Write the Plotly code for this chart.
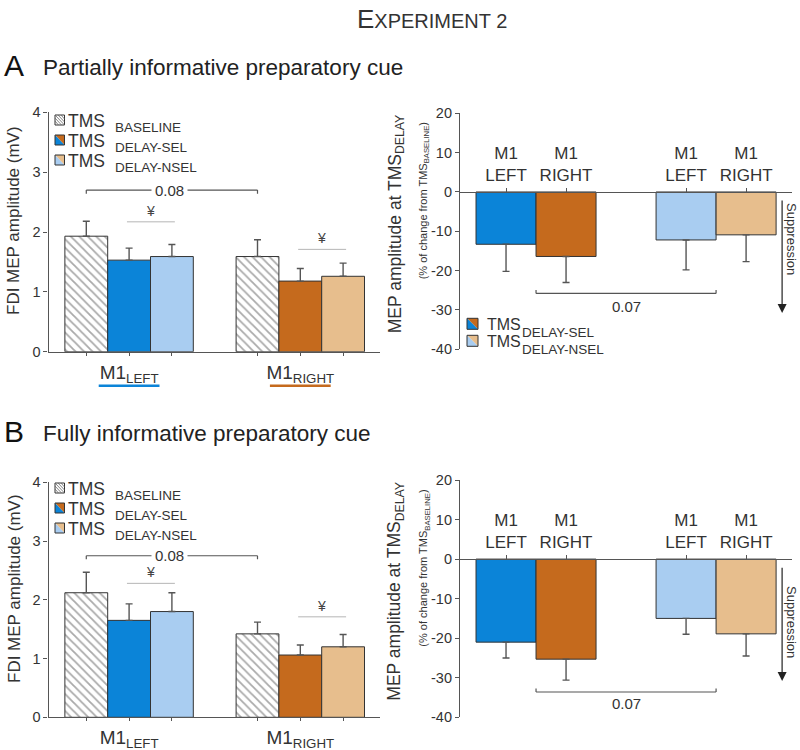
import plotly.graph_objects as go

W, H = 800, 750

# ---------------- data ----------------
group_labels = ["M1<sub>LEFT</sub>", "M1<sub>RIGHT</sub>"]
hemi_labels = ["M1<br>LEFT", "M1<br>RIGHT"]

# Left panels: FDI MEP amplitude (mV), [M1 LEFT, M1 RIGHT]
A_base = [1.93, 1.59]
A_base_err = [0.25, 0.28]
A_sel = [1.53, 1.18]
A_sel_err = [0.20, 0.21]
A_nsel = [1.59, 1.26]
A_nsel_err = [0.20, 0.22]

B_base = [2.12, 1.42]
B_base_err = [0.35, 0.20]
B_sel = [1.65, 1.06]
B_sel_err = [0.28, 0.17]
B_nsel = [1.80, 1.20]
B_nsel_err = [0.32, 0.21]

# Right panels: % change from TMS baseline, [M1 LEFT, M1 RIGHT]
A_sel_pct = [-13.3, -16.4]
A_sel_pct_err = [6.9, 6.6]
A_nsel_pct = [-12.2, -10.9]
A_nsel_pct_err = [7.6, 6.8]

B_sel_pct = [-21.0, -25.3]
B_sel_pct_err = [4.0, 5.3]
B_nsel_pct = [-15.0, -18.9]
B_nsel_pct_err = [4.0, 5.6]

left_ticks = [0, 1, 2, 3, 4]
right_ticks = [-40, -30, -20, -10, 0, 10, 20]
right_ticktext = ["-40", "-30", "-20", "-10", "0", "10", "20"]

p_main = "0.08"
p_pct = "0.07"

# ---------------- style ----------------
BLUE = "#0b84d8"
LBLUE = "#a9cdf1"
ORANGE = "#c56a1d"
LORANGE = "#e7be8d"
TXT = "#333333"
AX = "#555555"
FONT = "Liberation Sans, Arial, sans-serif"

def px(x):
    return x / W

def py(y):
    return 1 - y / H

# subplot pixel boxes
LA = dict(x=(48.5, 380), y=(112.3, 351.7))
RA = dict(x=(460, 791.7), y=(113.3, 349.3))
LB = dict(x=(48.5, 380), y=(482.3, 717.3))
RB = dict(x=(460, 791.7), y=(480, 717.3))

left_pos_base = [0, 4]
left_pos_sel = [1, 5]
left_pos_nsel = [2, 6]
right_pos_sel = [0, 1]
right_pos_nsel = [3, 4]
left_xrange = [-0.883, 6.862]
right_xrange = [-0.767, 4.76]
left_yrange = [0, 4]
right_yrange = [-40, 20]

fig = go.Figure()
shapes = []
annos = []

def ann(**kw):
    kw.setdefault("xanchor", "center")
    kw.setdefault("yanchor", "middle")
    kw.setdefault("showarrow", False)
    annos.append(kw)

def err_up(vals):
    return dict(type="data", symmetric=False, array=vals, arrayminus=[0] * len(vals),
                color=AX, thickness=1.4, width=3.5)

def err_down(vals):
    return dict(type="data", symmetric=False, array=[0] * len(vals), arrayminus=vals,
                color=AX, thickness=1.4, width=3.5)

def left_panel(xa, ya, base, base_err, sel, sel_err, nsel, nsel_err):
    fig.add_trace(go.Bar(x=left_pos_base, y=base, width=1, xaxis=xa, yaxis=ya,
                         marker=dict(color="white", line=dict(color=TXT, width=1),
                                     pattern=dict(shape="\\", fgcolor="#555555", bgcolor="white",
                                                  size=6, solidity=0.3)),
                         error_y=err_up(base_err), showlegend=False))
    fig.add_trace(go.Bar(x=left_pos_sel, y=sel, width=1, xaxis=xa, yaxis=ya,
                         marker=dict(color=[BLUE, ORANGE], line=dict(color=TXT, width=1)),
                         error_y=err_up(sel_err), showlegend=False))
    fig.add_trace(go.Bar(x=left_pos_nsel, y=nsel, width=1, xaxis=xa, yaxis=ya,
                         marker=dict(color=[LBLUE, LORANGE], line=dict(color=TXT, width=1)),
                         error_y=err_up(nsel_err), showlegend=False))

def right_panel(xa, ya, sel, sel_err, nsel, nsel_err):
    fig.add_trace(go.Bar(x=right_pos_sel, y=sel, width=1, xaxis=xa, yaxis=ya,
                         marker=dict(color=[BLUE, ORANGE], line=dict(color=TXT, width=1)),
                         error_y=err_down(sel_err), showlegend=False))
    fig.add_trace(go.Bar(x=right_pos_nsel, y=nsel, width=1, xaxis=xa, yaxis=ya,
                         marker=dict(color=[LBLUE, LORANGE], line=dict(color=TXT, width=1)),
                         error_y=err_down(nsel_err), showlegend=False))

left_panel("x", "y", A_base, A_base_err, A_sel, A_sel_err, A_nsel, A_nsel_err)
right_panel("x2", "y2", A_sel_pct, A_sel_pct_err, A_nsel_pct, A_nsel_pct_err)
left_panel("x3", "y3", B_base, B_base_err, B_sel, B_sel_err, B_nsel, B_nsel_err)
right_panel("x4", "y4", B_sel_pct, B_sel_pct_err, B_nsel_pct, B_nsel_pct_err)

def dom(box):
    return [px(box["x"][0]), px(box["x"][1])], [py(box["y"][1]), py(box["y"][0])]

layout_axes = {}
for i, (box, kind) in enumerate([(LA, "L"), (RA, "R"), (LB, "L"), (RB, "R")], start=1):
    xd, yd = dom(box)
    xn = "xaxis" if i == 1 else f"xaxis{i}"
    yn = "yaxis" if i == 1 else f"yaxis{i}"
    xid = "x" if i == 1 else f"x{i}"
    yid = "y" if i == 1 else f"y{i}"
    if kind == "L":
        layout_axes[xn] = dict(domain=xd, anchor=yid, range=left_xrange, showline=True,
                               linecolor=AX, linewidth=1.2, ticks="outside", ticklen=3,
                               tickcolor=AX, tickwidth=1, automargin=False,
                               tickvals=left_pos_base[:1] + left_pos_sel[:1] + left_pos_nsel[:1]
                               + left_pos_base[1:] + left_pos_sel[1:] + left_pos_nsel[1:],
                               ticktext=["", group_labels[0], "", "", group_labels[1], ""],
                               tickfont=dict(size=19, color=TXT, family=FONT),
                               showgrid=False, zeroline=False, fixedrange=True)
        layout_axes[yn] = dict(domain=yd, anchor=xid, range=left_yrange, tickvals=left_ticks,
                               showline=True, linecolor=AX, linewidth=1.2, ticks="outside",
                               ticklen=4, tickcolor=AX, automargin=False,
                               tickfont=dict(size=14.5, color=TXT, family=FONT),
                               showgrid=False, zeroline=False, fixedrange=True)
    else:
        zero_pos = yd[0] + (0 - right_yrange[0]) / (right_yrange[1] - right_yrange[0]) * (yd[1] - yd[0])
        layout_axes[xn] = dict(domain=xd, anchor="free", position=zero_pos,
                               side="top", range=right_xrange, showline=True, linecolor=AX,
                               linewidth=1.2, ticks="outside", ticklen=4, tickcolor=AX,
                               automargin=False,
                               tickvals=right_pos_sel + right_pos_nsel,
                               ticktext=hemi_labels + hemi_labels,
                               tickfont=dict(size=17, color=TXT, family=FONT),
                               showgrid=False, zeroline=False, fixedrange=True)
        layout_axes[yn] = dict(domain=yd, anchor=xid, range=right_yrange, tickvals=right_ticks,
                               ticktext=right_ticktext, showline=True, linecolor=AX, linewidth=1.2,
                               ticks="outside", ticklen=4, tickcolor=AX, automargin=False,
                               tickfont=dict(size=14.5, color=TXT, family=FONT),
                               showgrid=False, zeroline=False, fixedrange=True)

# --------- decorations for left panels ---------
def left_decor(xid, yid, bracket_y, yen_left_y, yen_right_y, y_off, ulabel_y):
    x0, x1 = left_pos_base
    shapes.append(dict(type="line", xref=xid, yref=yid, x0=x0, x1=x1, y0=bracket_y, y1=bracket_y,
                       line=dict(color=AX, width=1.2)))
    for xx in (x0, x1):
        shapes.append(dict(type="line", xref=xid, yref=yid, x0=xx, x1=xx, y0=bracket_y,
                           y1=bracket_y - 0.06, line=dict(color=AX, width=1.2)))
    ann(xref=xid, yref=yid, x=(x0 + x1) / 2 - 0.05, y=bracket_y, text=p_main,
        bgcolor="white", borderpad=3, font=dict(size=15, color=TXT, family=FONT))
    for (a, b), yy in (((left_pos_sel[0], left_pos_nsel[0]), yen_left_y),
                       ((left_pos_sel[1], left_pos_nsel[1]), yen_right_y)):
        shapes.append(dict(type="line", xref=xid, yref=yid, x0=a - 0.05, x1=b + 0.07, y0=yy, y1=yy,
                           line=dict(color="#b5b5b5", width=1)))
        ann(xref=xid, yref=yid, x=(a + b) / 2, y=yy, yanchor="bottom", yshift=1,
            text="¥", font=dict(size=14, color="#444", family=FONT))
    for gx, col in ((left_pos_sel[0], BLUE), (left_pos_sel[1], ORANGE)):
        shapes.append(dict(type="line", xref=xid, yref="paper", x0=gx - 0.71, x1=gx + 0.71,
                           y0=py(ulabel_y), y1=py(ulabel_y), line=dict(color=col, width=2.5)))
    rows = [("BASELINE", "hatch"), ("DELAY-SEL", (BLUE, ORANGE)), ("DELAY-NSEL", (LBLUE, LORANGE))]
    for k, (sub, sw) in enumerate(rows):
        cy = 120 + y_off + 20 * k
        sx0, sx1, sy0, sy1 = 55, 64.5, cy - 5, cy + 5
        if sw == "hatch":
            shapes.append(dict(type="rect", xref="paper", yref="paper", x0=px(sx0), x1=px(sx1),
                               y0=py(sy1), y1=py(sy0), fillcolor="white", line=dict(color=TXT, width=1)))
            for o in (-6, -3, 0, 3, 6):
                xa0, ya0 = sx0 + o, sy0
                xa1, ya1 = sx1 + o, sy1
                if xa0 < sx0:
                    ya0 += sx0 - xa0
                    xa0 = sx0
                if xa1 > sx1:
                    ya1 -= xa1 - sx1
                    xa1 = sx1
                shapes.append(dict(type="line", xref="paper", yref="paper", x0=px(xa0), y0=py(ya0),
                                   x1=px(xa1), y1=py(ya1), line=dict(color="#666", width=0.8)))
        else:
            c_low, c_up = sw
            shapes.append(dict(type="path", xref="paper", yref="paper",
                               path=f"M {px(sx0)} {py(sy0)} L {px(sx1)} {py(sy0)} L {px(sx1)} {py(sy1)} Z",
                               fillcolor=c_up, line=dict(width=0)))
            shapes.append(dict(type="path", xref="paper", yref="paper",
                               path=f"M {px(sx0)} {py(sy0)} L {px(sx0)} {py(sy1)} L {px(sx1)} {py(sy1)} Z",
                               fillcolor=c_low, line=dict(width=0)))
            shapes.append(dict(type="rect", xref="paper", yref="paper", x0=px(sx0), x1=px(sx1),
                               y0=py(sy1), y1=py(sy0), line=dict(color=TXT, width=1)))
        ann(xref="paper", yref="paper", x=px(66), y=py(cy + 1), xanchor="left",
            text="TMS", font=dict(size=17.5, color=TXT, family=FONT))
        ann(xref="paper", yref="paper", x=px(112.5), y=py(cy + 7.5), xanchor="left",
            text=sub, font=dict(size=13.5, color=TXT, family=FONT))
    box_y = (112.3 + y_off, 351.7 + y_off)
    ann(xref="paper", yref="paper", x=px(14), y=py((box_y[0] + box_y[1]) / 2 - 11),
        text="FDI MEP amplitude (mV)", textangle=-90,
        font=dict(size=17, color=TXT, family=FONT))

left_decor("x", "y", 2.70, 2.17, 1.71, 0, 385.7)
left_decor("x3", "y3", 2.75, 2.28, 1.71, 368, 754.5)

# --------- decorations for right panels ---------
def right_decor(xid, yid, bracket_y, label_y, supp_py, box):
    a, b = right_pos_sel[1] - 0.5, right_pos_nsel[0] + 0.5
    shapes.append(dict(type="line", xref=xid, yref=yid, x0=a, x1=b, y0=bracket_y, y1=bracket_y,
                       line=dict(color=AX, width=1.2)))
    for xx in (a, b):
        shapes.append(dict(type="line", xref=xid, yref=yid, x0=xx, x1=xx, y0=bracket_y,
                           y1=bracket_y + 0.9, line=dict(color=AX, width=1.2)))
    ann(xref=xid, yref=yid, x=(a + b) / 2, y=label_y, text=p_pct,
        font=dict(size=15, color=TXT, family=FONT))
    ann(xref=xid, yref=yid, axref=xid, ayref=yid, x=4.6, y=-30.8, ax=4.6, ay=-1.8,
        text="", showarrow=True, arrowhead=2, arrowsize=1.5, arrowwidth=1.2, arrowcolor="#222")
    ann(xref="paper", yref="paper", x=px(792), y=py(supp_py), text="Suppression", textangle=90,
        font=dict(size=13, color=TXT, family=FONT))
    cy = (box["y"][0] + box["y"][1]) / 2
    ann(xref="paper", yref="paper", x=px(396), y=py(cy - 7),
        text="MEP amplitude at TMS<sub>DELAY</sub>", textangle=-90,
        font=dict(size=17.5, color=TXT, family=FONT))
    ann(xref="paper", yref="paper", x=px(424), y=py(cy - 30),
        text="(% of change from TMS<sub>BASELINE</sub>)", textangle=-90,
        font=dict(size=11, color=TXT, family=FONT))

right_decor("x2", "y2", -25.8, -29.0, 239, RA)
right_decor("x4", "y4", -33.6, -36.5, 622, RB)

# legend for right panel A
for k, (sub, (c_low, c_up)) in enumerate([("DELAY-SEL", (BLUE, ORANGE)), ("DELAY-NSEL", (LBLUE, LORANGE))]):
    sy0 = 318.3 + 17 * k
    sy1 = sy0 + 11
    sx0, sx1 = 467, 478
    shapes.append(dict(type="path", xref="paper", yref="paper",
                       path=f"M {px(sx0)} {py(sy0)} L {px(sx1)} {py(sy0)} L {px(sx1)} {py(sy1)} Z",
                       fillcolor=c_up, line=dict(width=0)))
    shapes.append(dict(type="path", xref="paper", yref="paper",
                       path=f"M {px(sx0)} {py(sy0)} L {px(sx0)} {py(sy1)} L {px(sx1)} {py(sy1)} Z",
                       fillcolor=c_low, line=dict(width=0)))
    shapes.append(dict(type="rect", xref="paper", yref="paper", x0=px(sx0), x1=px(sx1),
                       y0=py(sy1), y1=py(sy0), line=dict(color=TXT, width=1)))
    ann(xref="paper", yref="paper", x=px(485), y=py(sy0 + 6), xanchor="left",
        text="TMS", font=dict(size=16, color=TXT, family=FONT))
    ann(xref="paper", yref="paper", x=px(520), y=py(sy0 + 14), xanchor="left",
        text=sub, font=dict(size=13.5, color=TXT, family=FONT))

# titles
ann(xref="paper", yref="paper", x=px(432), y=py(19),
    text="E<span style='font-size:20px'>XPERIMENT 2</span>",
    font=dict(size=26, color=TXT, family=FONT))
for letter, sub, yc in (("A", "Partially informative preparatory cue", 66),
                        ("B", "Fully informative preparatory cue", 432)):
    ann(xref="paper", yref="paper", x=px(2), y=py(yc), xanchor="left",
        text=letter, font=dict(size=30, color="#111", family=FONT))
    ann(xref="paper", yref="paper", x=px(41), y=py(yc + 1), xanchor="left",
        text=sub, font=dict(size=22.5, color="#222", family=FONT))

fig.update_layout(width=W, height=H, margin=dict(l=0, r=0, t=0, b=0, autoexpand=False),
                  paper_bgcolor="white", plot_bgcolor="white", barmode="overlay",
                  showlegend=False, shapes=shapes, annotations=annos,
                  font=dict(family=FONT, color=TXT), **layout_axes)

fig.write_html("out.html", config={"displayModeBar": False},
               post_script="document.body.style.margin='0';document.body.style.overflow='hidden';")
